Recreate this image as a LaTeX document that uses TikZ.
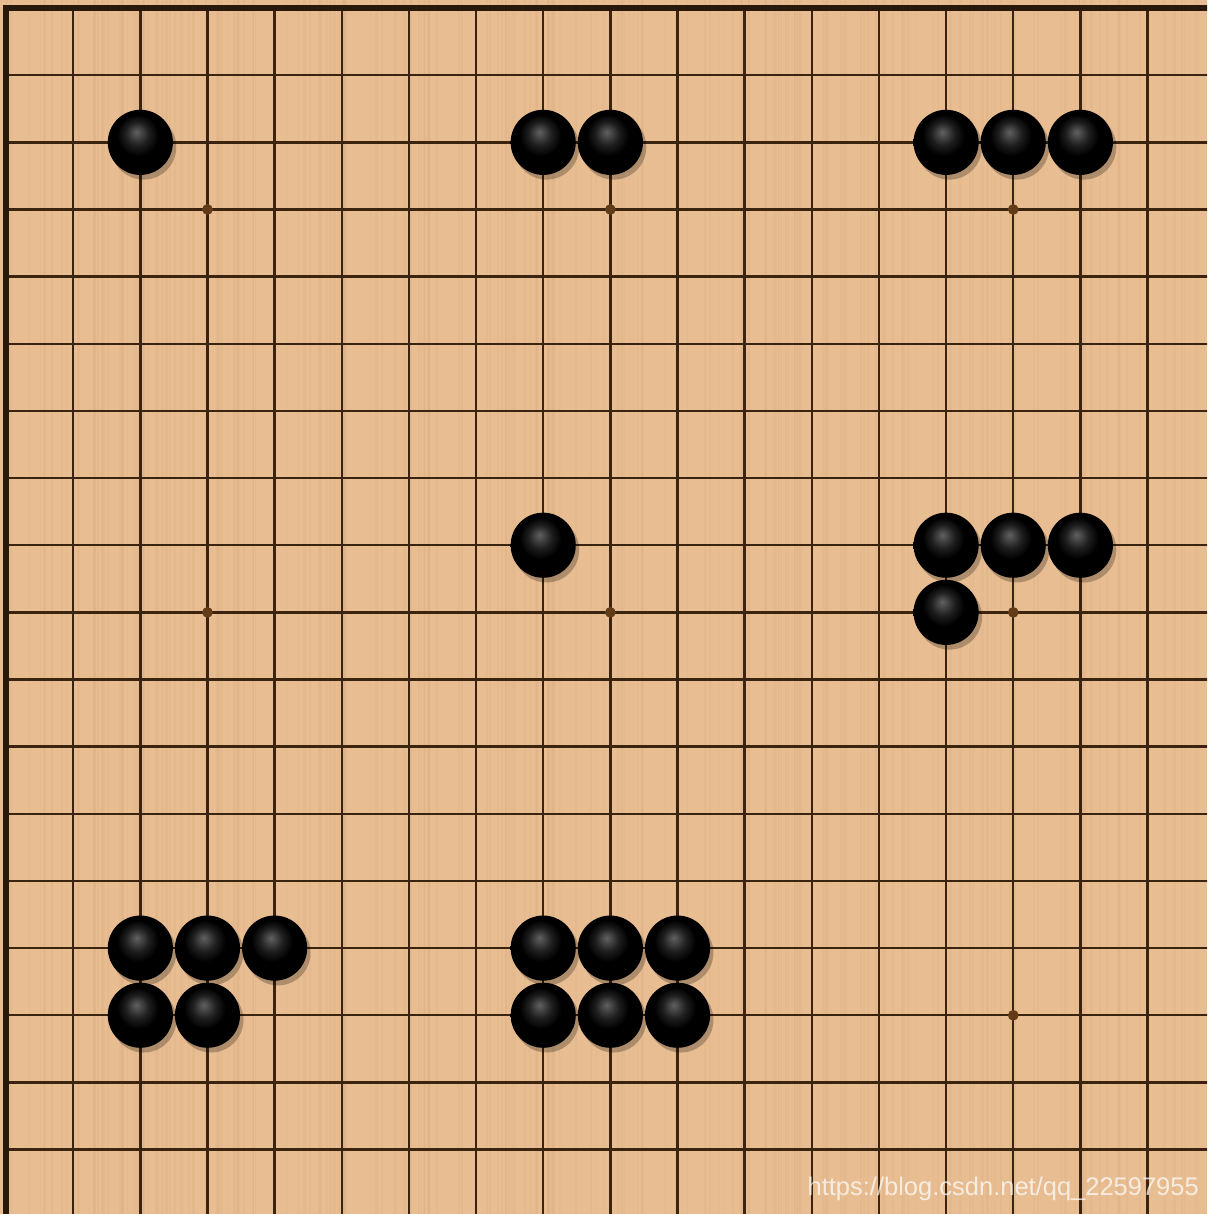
\documentclass[tikz,border=0pt]{standalone}
\usepackage{fontspec}
\setsansfont{Liberation Sans}
\usetikzlibrary{shadows}

\definecolor{boardwood}{RGB}{231,189,145}
\definecolor{woodgrain}{RGB}{196,146,98}
\definecolor{gridline}{RGB}{58,36,16}
\definecolor{starpt}{RGB}{98,60,22}

\pgfdeclareradialshading{stoneshade}{\pgfpoint{-3bp}{8bp}}{%
  color(0bp)=(black!62); color(9bp)=(black!88); color(16bp)=(black);
  color(25bp)=(black); color(50bp)=(black)}

\tikzset{
  grid line/.style={gridline, line width=1pt},
  border line/.style={gridline!70!black, line width=2.4pt},
  stone/.style={circle, minimum size=0.97cm, inner sep=0pt, shading=stoneshade,
    drop shadow={shadow xshift=0.05cm, shadow yshift=-0.07cm, opacity=0.25, fill=black}},
  watermark/.style={text=white, text opacity=0.72, inner sep=0pt,
    font=\sffamily\fontsize{10.8}{13}\selectfont}
}

\begin{document}
\begin{tikzpicture}[y=-1cm]

    % Board
    \useasboundingbox (-0.09,-0.12) rectangle (17.886,17.96);
    \fill[boardwood] (-0.09,-0.12) rectangle (17.886,17.96);
    \clip (-0.09,-0.12) rectangle (17.886,17.96);

    % Wood grain (faint vertical stripes)
    \pgfmathsetseed{7}
    \foreach \k in {1,...,220} {
        \pgfmathsetmacro\gx{rnd*18}
        \pgfmathsetmacro\gw{0.3+rnd*0.9}
        \draw[woodgrain, opacity=0.08, line width=\gw pt] (\gx,-0.2) -- (\gx,18.1);
    }

    % Grid lines
    \foreach \i in {1,...,18} {
        \draw[grid line] (\i,0) -- (\i,18.1);
        \draw[grid line] (0,\i) -- (18.1,\i);
    }

    % Board edge (top and left)
    \draw[border line] (0,18.1) -- (0,0) -- (18.1,0);

    % Star points
    \foreach \c/\r in {3/3, 9/3, 15/3, 3/9, 9/9, 15/9, 3/15, 9/15, 15/15}
        \fill[starpt] (\c,\r) circle (0.08);

    % Black stones
    \foreach \c/\r in {
        2/2,
        8/2, 9/2,
        14/2, 15/2, 16/2,
        8/8,
        14/8, 15/8, 16/8, 14/9,
        2/14, 3/14, 4/14, 2/15, 3/15,
        8/14, 9/14, 10/14, 8/15, 9/15, 10/15
    }
    {
        \node[stone] (b-\c-\r) at (\c,\r) {};
    }

    % Watermark
    \node[watermark, anchor=base east] (url) at (17.77,17.68) {https://blog.csdn.net/qq\_22597955};

\end{tikzpicture}
\end{document}
